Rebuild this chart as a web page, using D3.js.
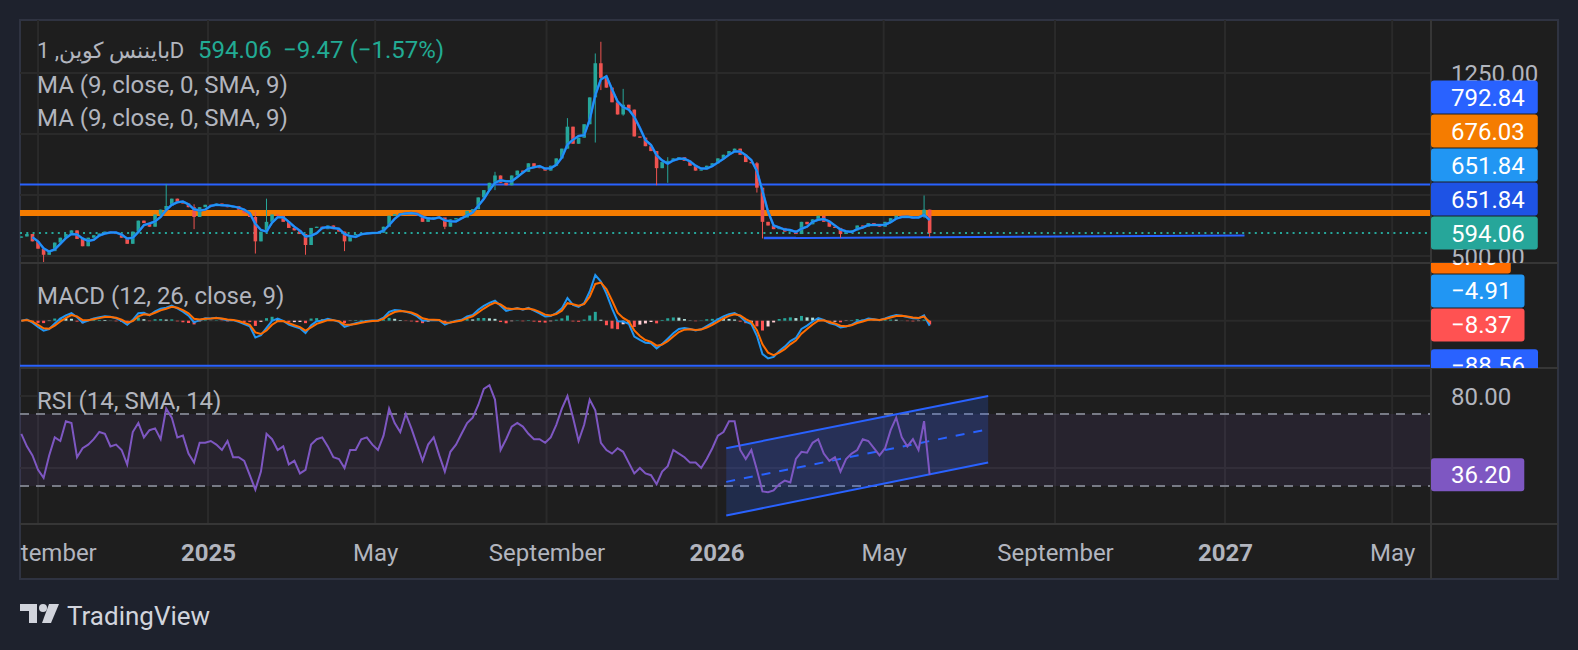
<!DOCTYPE html>
<html>
<head>
<meta charset="utf-8">
<script src="https://cdn.jsdelivr.net/npm/d3@7"></script>
<style>
  body { margin: 0; background: #1e222d; }
  svg text { font-family: Roboto, "Noto Sans", sans-serif; }
</style>
</head>
<body>
<svg id="chart" width="1578" height="650"></svg>
<script>
// ---- data (one candle every 4 days) ----
const startDate = [2024, 7, 20];
const stepDays = 4;
const closes = [
  580, 590, 560, 530, 505, 520, 555, 575, 590, 605,
  570, 540, 575, 585, 592, 600, 598, 590, 575, 550,
  600, 645, 635, 620, 670, 690, 705, 735, 720, 715,
  700, 660, 700, 710, 705, 715, 705, 700, 705, 690,
  675, 660, 560, 600, 640, 670, 665, 640, 615, 605,
  590, 545, 615, 620, 610, 625, 610, 600, 560, 585,
  590, 592, 595, 597, 595, 620, 665, 672, 675, 675,
  678, 665, 640, 658, 660, 658, 620, 650, 655, 658,
  685, 692, 740, 770, 800, 830, 800, 790, 830, 850,
  845, 880, 865, 860, 850, 870, 900, 940, 1030, 960,
  985, 1040, 1150, 1290, 1230, 1190, 1130, 1080, 1120, 1100,
  990, 985, 950, 930, 860, 885, 890, 900, 905, 890,
  870, 850, 855, 870, 880, 900, 915, 930, 940, 915,
  885, 880, 780, 640, 625, 610, 615, 600, 605, 590,
  640, 630, 650, 665, 640, 620, 615, 590, 600, 605,
  625, 620, 635, 625, 620, 640, 655, 665, 660, 658,
  655, 660, 690, 594.06
];
const firstOpen = 575;
// notable wicks: candle index, high, low
const wickIdx  = [4,   26,  31,  42,  44,  51,  58,  76,  85,  98,   103,  104,  108,  114, 116, 132, 133, 147, 162, 163];
const wickHigh = [525, 795, 712, 680, 735, 590, 600, 655, 845, 1065, 1330, 1378, 1185, 930, 905, 885, 780, 615, 748, 690];
const wickLow  = [468, 690, 610, 510, 600, 505, 520, 610, 770, 940,  965,  1180, 1075, 790, 800, 760, 572, 575, 655, 578];

const rsiValues = [
  59, 52, 47, 39, 34.5, 47, 57, 55, 66, 65,
  46, 51, 53, 56, 60, 59, 52, 53, 50, 42,
  60, 65, 57, 61, 62, 56, 73, 68, 57, 58,
  48, 43, 54, 54, 55, 53, 50, 55, 46, 46,
  44, 36, 28, 38, 59, 56, 50, 52, 42, 44,
  37, 39, 53, 56, 57, 52, 46, 45, 40, 50,
  50, 56, 57, 53, 50, 58, 73, 65, 60, 70,
  62, 53, 44, 53, 57, 47, 38, 49, 53, 59,
  65, 68, 75, 84, 86, 78, 50, 56, 63, 65,
  63, 59, 56, 56, 54, 57, 64, 73, 80, 68,
  55, 64, 78, 72, 54, 50, 48, 51, 49, 43,
  37, 40, 37, 36, 31, 38, 41, 50, 48, 46,
  43, 43, 40, 45, 51, 58, 60, 66, 66, 50,
  45, 50, 39, 27, 26.5, 27.5, 31, 33, 32, 45,
  49, 48.5, 54, 56, 48, 44, 46, 38, 45, 48,
  50, 56, 55, 51, 47, 51, 61, 68, 57, 52,
  56, 50, 66, 36.2
];

const priceGrid = [500, 750, 1000, 1250];
const priceLabels = [500, 1250];      // 750 and 1000 sit under the badges
const rsiGrid = [40, 80];
const rsiLabels = [80];
const timeTicks = ["2024-09-01", "2025-01-01", "2025-05-01", "2025-09-01", "2026-01-01",
                   "2026-05-01", "2026-09-01", "2027-01-01", "2027-05-01"];
const timeLabels = ["September", "2025", "May", "September", "2026", "May", "September", "2027", "May"];

const resistance = 792.84;
const support = 676.03;
const lastPrice = 594.06;
const trendLines = [
  ["2026-02-04", 572.5, "2027-01-15", 584],
  ["2026-02-04", 575, "2026-02-27", 575]
];
const macdLevel = -88.56;
const rsiChannelDates = ["2026-01-08", "2026-07-15"];
const rsiUpper = [51, 80];
const rsiMiddle = [32.3, 61.5];
const rsiLower = [13.6, 43];

const priceBadges = [
  { v: 594.06, label: "594.06", color: "#26a69a" },
  { v: 651.84, label: "651.84", color: "#1e53e5" },
  { v: 651.84, label: "651.84", color: "#2196f3" },
  { v: 676.03, label: "676.03", color: "#f57c00" },
  { v: 792.84, label: "792.84", color: "#2962ff" }
];
const macdBadges = [
  { v: -88.56, label: "\u221288.56", color: "#2962ff" },
  { v: -8.37, label: "\u22128.37", color: "#ff5252" },
  { v: -4.91, label: "\u22124.91", color: "#2196f3" },
  { v: 3.46, label: "3.46", color: "#ff6d00" }
];
const rsiBadges = [{ v: 36.20, label: "36.20", color: "#7e57c2" }];

// ---- layout ----
const L = 20, R = 1558, plotR = 1431, T = 20, B = 579;
const pricePane = [20, 263], macdPane = [263, 368], rsiPane = [368, 524];
const gridColor = "#2a2a2a", sepColor = "#363636", textColor = "#b2b5be";

const parse = d3.utcParse("%Y-%m-%d");
const dates = closes.map((_, i) => new Date(Date.UTC(startDate[0], startDate[1], startDate[2] + i * stepDays)));

const x = d3.scaleUtc().domain([parse("2025-01-01"), parse("2027-01-01")]).range([208, 1225]);
const priceY = d3.scaleLinear().domain([500, 750]).range([256, 195]);
const macdY = d3.scaleLinear().domain([0, -88.56]).range([320.7, 365.7]);
const rsiY = d3.scaleLinear().domain([30, 70]).range([486, 414]);

const svg = d3.select("#chart");
const defs = svg.append("defs");
function clip(id, x0, y0, x1, y1) {
  defs.append("clipPath").attr("id", id).append("rect")
    .attr("x", x0).attr("y", y0).attr("width", x1 - x0).attr("height", y1 - y0);
  return "url(#" + id + ")";
}
const clipPrice = clip("cp", L, pricePane[0], plotR, pricePane[1]);
const clipMacd = clip("cm", L, macdPane[0], plotR, macdPane[1]);
const clipRsi = clip("cr", L, rsiPane[0], plotR, rsiPane[1]);
const clipPlot = clip("cpl", L, T, plotR, rsiPane[1]);
const clipTime = clip("ct", L, rsiPane[1], plotR, B);
const clipPriceAx = clip("cpa", plotR, pricePane[0], R, pricePane[1]);
const clipMacdAx = clip("cma", plotR, macdPane[0], R, macdPane[1]);
const clipRsiAx = clip("cra", plotR, rsiPane[0], R, rsiPane[1]);

// frame background
svg.append("rect").attr("x", L).attr("y", T).attr("width", R - L).attr("height", B - T)
  .attr("fill", "#1e1e1e").attr("stroke", "#2f3341").attr("stroke-width", 2);

// vertical grid
const tickDates = timeTicks.map(parse);
svg.append("g").attr("clip-path", clipPlot).selectAll("line").data(tickDates).join("line")
  .attr("x1", d => x(d)).attr("x2", d => x(d)).attr("y1", T).attr("y2", rsiPane[1])
  .attr("stroke", gridColor).attr("stroke-width", 2);

// horizontal grid
function hgrid(vals, scale, clipUrl) {
  svg.append("g").attr("clip-path", clipUrl).selectAll("line").data(vals).join("line")
    .attr("x1", L).attr("x2", plotR).attr("y1", d => scale(d)).attr("y2", d => scale(d))
    .attr("stroke", gridColor).attr("stroke-width", 2);
}
hgrid(priceGrid, priceY, clipPrice);
hgrid([0], macdY, clipMacd);
hgrid(rsiGrid, rsiY, clipRsi);

// ---- price pane ----
const pg = svg.append("g").attr("clip-path", clipPrice);
pg.append("line").attr("x1", L).attr("x2", plotR).attr("y1", priceY(resistance)).attr("y2", priceY(resistance))
  .attr("stroke", "#2962ff").attr("stroke-width", 2);
pg.append("line").attr("x1", L).attr("x2", plotR).attr("y1", priceY(support)).attr("y2", priceY(support))
  .attr("stroke", "#f57c00").attr("stroke-width", 6);
pg.append("line").attr("x1", L).attr("x2", plotR).attr("y1", priceY(lastPrice)).attr("y2", priceY(lastPrice))
  .attr("stroke", "#26a69a").attr("stroke-width", 2).attr("stroke-dasharray", "2,4.3");
pg.selectAll(".trend").data(trendLines).join("line").attr("class", "trend")
  .attr("x1", d => x(parse(d[0]))).attr("y1", d => priceY(d[1]))
  .attr("x2", d => x(parse(d[2]))).attr("y2", d => priceY(d[3]))
  .attr("stroke", "#2962ff").attr("stroke-width", 2);

const candles = closes.map((c, i) => {
  const o = i === 0 ? firstOpen : closes[i - 1];
  const k = wickIdx.indexOf(i);
  return {
    date: dates[i], o, c,
    h: k >= 0 ? wickHigh[k] : Math.max(o, c),
    l: k >= 0 ? wickLow[k] : Math.min(o, c)
  };
});
const bodyW = 3.6;
const cg = pg.append("g");
cg.selectAll("line").data(candles).join("line")
  .attr("x1", d => x(d.date)).attr("x2", d => x(d.date))
  .attr("y1", d => priceY(d.h)).attr("y2", d => priceY(d.l))
  .attr("stroke", d => d.c >= d.o ? "#26a69a" : "#ef5350").attr("stroke-width", 1);
cg.selectAll("rect").data(candles).join("rect")
  .attr("x", d => x(d.date) - bodyW / 2).attr("width", bodyW)
  .attr("y", d => priceY(Math.max(d.o, d.c)))
  .attr("height", d => Math.max(1, Math.abs(priceY(d.o) - priceY(d.c))))
  .attr("fill", d => d.c >= d.o ? "#26a69a" : "#ef5350");

// moving average over the last 9 days (3 candles of 4 days)
const ma = closes.map((c, i) => i < 2 ? null : d3.mean(closes.slice(i - 2, i + 1)));
const maLine = d3.line().defined(d => d[1] != null).x(d => x(d[0])).y(d => priceY(d[1]));
const maPts = ma.map((v, i) => [dates[i], v]);
pg.append("path").attr("d", maLine(maPts)).attr("fill", "none").attr("stroke", "#1e53e5").attr("stroke-width", 2.5);
pg.append("path").attr("d", maLine(maPts)).attr("fill", "none").attr("stroke", "#2196f3").attr("stroke-width", 2);

// ---- MACD pane (computed from closes, EMA spans in days) ----
function ema(vals, days) {
  const a = 1 - Math.pow(1 - 2 / (days + 1), stepDays);
  let e = vals[0];
  return vals.map(v => (e = e + a * (v - e)));
}
const e12 = ema(closes, 12), e26 = ema(closes, 26);
const macd = closes.map((_, i) => e12[i] - e26[i]);
const signal = ema(macd, 9);
const hist = macd.map((m, i) => m - signal[i]);

const mg = svg.append("g").attr("clip-path", clipMacd);
mg.append("line").attr("x1", L).attr("x2", plotR).attr("y1", macdY(macdLevel)).attr("y2", macdY(macdLevel))
  .attr("stroke", "#2962ff").attr("stroke-width", 2);
mg.selectAll("rect").data(hist).join("rect")
  .attr("x", (d, i) => x(dates[i]) - 1.5).attr("width", 3)
  .attr("y", d => Math.min(macdY(d), macdY(0)))
  .attr("height", d => Math.abs(macdY(d) - macdY(0)))
  .attr("fill", (d, i) => {
    const prev = i > 0 ? hist[i - 1] : d;
    if (d >= 0) return d >= prev ? "#26a69a" : "#b2dfdb";
    return d <= prev ? "#ff5252" : "#ffcdd2";
  });
const mLine = d3.line().x((d, i) => x(dates[i])).y(d => macdY(d));
mg.append("path").attr("d", mLine(macd)).attr("fill", "none").attr("stroke", "#2196f3").attr("stroke-width", 2);
mg.append("path").attr("d", mLine(signal)).attr("fill", "none").attr("stroke", "#ff6d00").attr("stroke-width", 2);

// ---- RSI pane ----
const rg = svg.append("g").attr("clip-path", clipRsi);
rg.append("rect").attr("x", L).attr("width", plotR - L).attr("y", rsiY(70)).attr("height", rsiY(30) - rsiY(70))
  .attr("fill", "rgba(126,87,194,0.1)");
rg.selectAll(".band").data([70, 30]).join("line").attr("class", "band")
  .attr("x1", L).attr("x2", plotR).attr("y1", d => rsiY(d)).attr("y2", d => rsiY(d))
  .attr("stroke", "#787b86").attr("stroke-width", 2).attr("stroke-dasharray", "9,7");
const cx = rsiChannelDates.map(d => x(parse(d)));
rg.append("path")
  .attr("d", `M${cx[0]},${rsiY(rsiUpper[0])}L${cx[1]},${rsiY(rsiUpper[1])}L${cx[1]},${rsiY(rsiLower[1])}L${cx[0]},${rsiY(rsiLower[0])}Z`)
  .attr("fill", "rgba(41,98,255,0.2)");
rg.selectAll(".chan").data([rsiUpper, rsiLower, rsiMiddle]).join("line").attr("class", "chan")
  .attr("x1", cx[0]).attr("x2", cx[1]).attr("y1", d => rsiY(d[0])).attr("y2", d => rsiY(d[1]))
  .attr("stroke", "#2962ff").attr("stroke-width", 2)
  .attr("stroke-dasharray", (d, i) => i === 2 ? "9,9" : null);
rg.append("path").attr("d", d3.line().x((d, i) => x(dates[i])).y(d => rsiY(d))(rsiValues))
  .attr("fill", "none").attr("stroke", "#7e57c2").attr("stroke-width", 2);

// ---- separators ----
const sep = svg.append("g").attr("stroke", sepColor).attr("stroke-width", 2);
[pricePane[1], macdPane[1], rsiPane[1]].forEach(y => sep.append("line").attr("x1", L).attr("x2", R).attr("y1", y).attr("y2", y));
sep.append("line").attr("x1", plotR).attr("x2", plotR).attr("y1", T).attr("y2", B);

// ---- axes ----
const fs = 24;
const pa = svg.append("g").attr("clip-path", clipPriceAx);
pa.selectAll("text").data(priceLabels).join("text")
  .attr("x", 1451).attr("y", d => priceY(d) + 8.5).attr("fill", textColor).attr("font-size", fs)
  .text(d3.format(".2f"));
const ra = svg.append("g").attr("clip-path", clipRsiAx);
ra.selectAll("text").data(rsiLabels).join("text")
  .attr("x", 1451).attr("y", d => rsiY(d) + 8.5).attr("fill", textColor).attr("font-size", fs)
  .text(d3.format(".2f"));

const timeAxis = d3.axisBottom(x).tickValues(tickDates).tickFormat((d, i) => timeLabels[i]).tickSize(0);
const ta = svg.append("g").attr("clip-path", clipTime).append("g").attr("transform", `translate(0,${rsiPane[1]})`).call(timeAxis);
ta.select(".domain").remove();
ta.selectAll("text").attr("fill", textColor).attr("font-size", fs).attr("dy", 0).attr("y", 37)
  .attr("font-family", "Roboto, sans-serif")
  .attr("font-weight", (d, i) => /^\d+$/.test(timeLabels[i]) ? "bold" : "normal");

// ---- badges on the scale ----
function badges(items, scale, clipUrl) {
  const g = svg.append("g").attr("clip-path", clipUrl);
  let prev = Infinity;
  items.map(d => Object.assign({}, d, { y: scale(d.v) }))
    .sort((a, b) => b.y - a.y)
    .forEach(d => {
      const cy = Math.min(d.y, prev - 34);
      prev = cy;
      const bg = g.append("g");
      const rect = bg.append("rect").attr("x", plotR).attr("y", cy - 16.5).attr("height", 33).attr("rx", 3).attr("fill", d.color);
      const t = bg.append("text").attr("x", 1451).attr("y", cy + 8.5).attr("fill", "#ffffff").attr("font-size", fs).text(d.label);
      rect.attr("width", t.node().getComputedTextLength() + 33);
    });
}
badges(priceBadges, priceY, clipPriceAx);
badges(macdBadges, macdY, clipMacdAx);
badges(rsiBadges, rsiY, clipRsiAx);

// ---- legends ----
const lg = svg.append("g").attr("font-size", fs);
lg.append("text").attr("x", 37).attr("y", 58).attr("fill", textColor).attr("font-size", 22).text("بایننس کوین, 1D");
lg.append("text").attr("x", 198).attr("y", 58).attr("fill", "#22ab94").text("594.06");
lg.append("text").attr("x", 283).attr("y", 58).attr("fill", "#22ab94").text("\u22129.47 (\u22121.57%)");
lg.append("text").attr("x", 37).attr("y", 93).attr("fill", textColor).text("MA (9, close, 0, SMA, 9)");
lg.append("text").attr("x", 37).attr("y", 126).attr("fill", textColor).text("MA (9, close, 0, SMA, 9)");
lg.append("text").attr("x", 37).attr("y", 304).attr("fill", textColor).text("MACD (12, 26, close, 9)");
lg.append("text").attr("x", 37).attr("y", 409).attr("fill", textColor).text("RSI (14, SMA, 14)");

// ---- TradingView mark ----
const logo = svg.append("g").attr("fill", "#d1d4dc");
logo.append("path").attr("d", "M20,604H37V623H29V611H20Z");
logo.append("circle").attr("cx", 43).attr("cy", 608).attr("r", 4);
logo.append("path").attr("d", "M49,604H59L51,623H42Z");
logo.append("text").attr("x", 67).attr("y", 625).attr("font-size", 26).text("TradingView");
</script>
</body>
</html>
